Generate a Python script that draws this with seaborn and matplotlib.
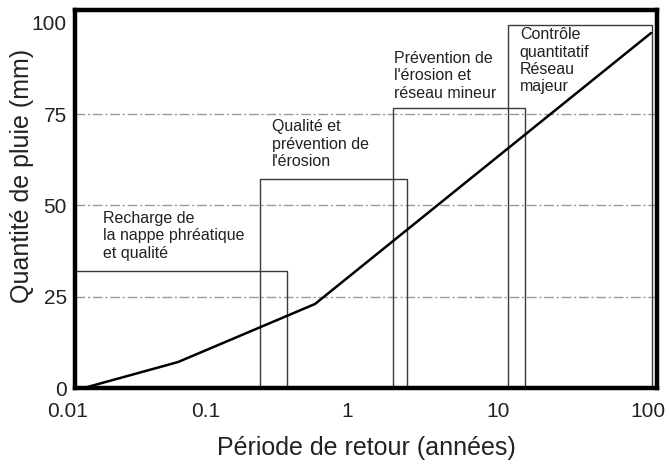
import matplotlib
matplotlib.use("Agg")
import matplotlib.pyplot as plt
import matplotlib.transforms as mtransforms
import seaborn as sns
import pandas as pd
from matplotlib.patches import Rectangle

# ---- data ----
return_period = [0.0115, 0.051, 0.446, 91.0]      # années
rainfall = [0.0, 7.1, 23.0, 97.2]                 # mm

box_left = [0.01, 0.187, 1.53, 9.4]
box_right = [0.286, 1.91, 12.4, 92.5]
box_top = [32.0, 57.2, 76.6, 99.4]
box_labels = [
    "Recharge de\nla nappe phréatique\net qualité",
    "Qualité et\nprévention de\nl'érosion",
    "Prévention de\nl'érosion et\nréseau mineur",
    "Contrôle\nquantitatif\nRéseau\nmajeur",
]
label_x = [0.0156, 0.226, 1.56, 11.4]
label_y = [48.5, 73.6, 92.3, 98.8]

grid_levels = [25, 50, 75]
x_ticks = [0.01, 0.1, 1, 10, 100]
x_tick_labels = ["0.01", "0.1", "1", "10", "100"]
y_ticks = [0, 25, 50, 75, 100]
y_tick_labels = ["0", "25", "50", "75", "100"]

x_title = "Période de retour (années)"
y_title = "Quantité de pluie (mm)"

# ---- figure ----
sns.set_theme(style="white")
plt.rcParams["font.family"] = ["Liberation Sans", "DejaVu Sans"]

fig = plt.figure(figsize=(6.7, 4.68), dpi=100)
ax = fig.add_axes([75 / 670, 1 - 388 / 468, 582 / 670, 378 / 468])

for lvl in grid_levels:
    ax.axhline(lvl, color="#9a9a9a", lw=1.0, linestyle=(0, (7, 2, 1.5, 2)), zorder=1)

for l, r, t in zip(box_left, box_right, box_top):
    ax.add_patch(Rectangle((l, 0), r - l, t, fill=False, edgecolor="#3a3a3a",
                           lw=1.0, zorder=2))

df = pd.DataFrame({"T": return_period, "P": rainfall})
sns.lineplot(data=df, x="T", y="P", color="black", lw=1.8, ax=ax, zorder=3)

for x, y, s in zip(label_x, label_y, box_labels):
    ax.text(x, y, s, fontsize=11.5, color="#222222", ha="left", va="top",
            linespacing=1.2, zorder=4)

ax.set_xscale("log")
ax.set_xlim(0.01, 100)
ax.set_ylim(0, 103.5)
ax.set_xticks(x_ticks)
ax.set_xticklabels(x_tick_labels)
ax.set_yticks(y_ticks)
ax.set_yticklabels(y_tick_labels)
ax.minorticks_off()
ax.tick_params(axis="both", length=0, labelsize=15, colors="#222222")
ax.tick_params(axis="x", pad=10)
ax.tick_params(axis="y", pad=6)

# the reference's tick labels sit slightly left of their ticks
label_shift_px = [-7, -15, -19, -13, -9]
for lab, dx in zip(ax.get_xticklabels(), label_shift_px):
    lab.set_transform(lab.get_transform() +
                      mtransforms.ScaledTranslation(dx / 100, 0, fig.dpi_scale_trans))

ax.set_xlabel(x_title, fontsize=18, color="#222222")
ax.set_ylabel(y_title, fontsize=18, color="#222222")
ax.xaxis.set_label_coords(0.5, -0.128)
ax.yaxis.set_label_coords(-0.07, 0.56)

for sp in ax.spines.values():
    sp.set_visible(True)
    sp.set_color("black")
    sp.set_linewidth(3.2)

fig.savefig("out.png", dpi=100, facecolor="white")
